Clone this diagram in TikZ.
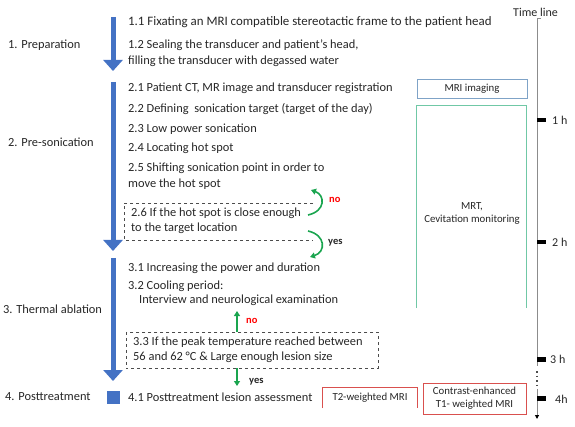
\documentclass[tikz,border=0pt]{standalone}
\usepackage{fontspec}
\setmainfont{Carlito}
\usetikzlibrary{arrows.meta}
\definecolor{flowblue}{HTML}{4472C4}
\definecolor{okgreen}{HTML}{1AA54F}
\definecolor{imgblue}{HTML}{7FA3C7}
\definecolor{mrtgreen}{HTML}{70C8A6}
\definecolor{redbox}{HTML}{D9504E}
\definecolor{tlgray}{HTML}{8C8C8C}
\begin{document}
\begin{tikzpicture}[x=1pt,y=-1pt,
  txt/.style={anchor=west,inner sep=0pt,font=\fontsize{12.4}{15}\selectfont,text=black!85},
  phase/.style={anchor=west,inner sep=0pt,font=\fontsize{12.4}{15}\selectfont,text=black!85},
  smalltxt/.style={inner sep=0pt,font=\fontsize{10.8}{13}\selectfont,text=black!85,align=center},
  bigarrow/.style={draw=flowblue,line width=5pt,-{Triangle[length=11pt,width=19pt]}},
  garrow/.style={draw=okgreen,line width=1.6pt,-{Triangle[length=5pt,width=6pt]}},
  dashbox/.style={draw=black!70,dashed,line width=0.6pt},
  tick/.style={fill=black,draw=none},
  tlab/.style={anchor=west,inner sep=0pt,font=\fontsize{12}{14}\selectfont,text=black!85},
  frame/.style={inner sep=0pt},
]
\useasboundingbox (0,0) rectangle (575,427);

% phase labels
\node[phase] (p1) at (8,45) {1. Preparation};
\node[phase] (p2) at (8,142) {2. Pre-sonication};
\node[phase] (p3) at (3,309) {3. Thermal ablation};
\node[phase] (p4) at (5,397) {4. Posttreatment};

% blue arrows
\coordinate (a1s) at (113,17);  \coordinate (a1e) at (113,71);
\coordinate (a2s) at (113,82);  \coordinate (a2e) at (113,251);
\coordinate (a3s) at (113,258); \coordinate (a3e) at (113,381);
\draw[bigarrow] (a1s) -- (a1e);
\draw[bigarrow] (a2s) -- (a2e);
\draw[bigarrow] (a3s) -- (a3e);
\node[fill=flowblue,minimum size=13pt,inner sep=0pt] (sq) at (113.5,397) {};

% step texts
\node[txt,font=\fontsize{12.9}{15}\selectfont] (s11) at (128,22) {1.1 Fixating an MRI compatible stereotactic frame to the patient head};
\node[txt,align=left,font=\fontsize{12.4}{16}\selectfont] (s12) at (128,53) {1.2 Sealing the transducer and patient’s head,\\filling the transducer with degassed water};
\node[txt] (s21) at (128,88) {2.1 Patient CT, MR image and transducer registration};
\node[txt] (s22) at (128,109) {2.2 Defining\ \ sonication target (target of the day)};
\node[txt] (s23) at (128,129) {2.3 Low power sonication};
\node[txt] (s24) at (128,148) {2.4 Locating hot spot};
\node[txt,align=left,font=\fontsize{12.4}{16}\selectfont] (s25) at (128,176) {2.5 Shifting sonication point in order to\\move the hot spot};

% 2.6 dashed frame (open on the right)
\node[frame,minimum width=189pt,minimum height=36pt] (b26) at (218.5,222) {};
\draw[dashbox] (b26.north east) -- (b26.north west) -- (b26.south west) -- (b26.south east);
\node[txt,align=left,font=\fontsize{12.4}{15}\selectfont] (s26) at (131,220.5) {2.6 If the hot spot is close enough\\to the target location};

\node[txt] (s31) at (128,268) {3.1 Increasing the power and duration};
\node[txt,align=left,font=\fontsize{12.4}{13.5}\selectfont] (s32) at (128,293.5) {3.2 Cooling period:\\\hspace{11pt}Interview and neurological examination};

% 3.3 dashed frame
\node[frame,minimum width=252pt,minimum height=36pt] (b33) at (252,350) {};
\draw[dashbox] (b33.north west) rectangle (b33.south east);
\node[txt,align=left,font=\fontsize{12.4}{15}\selectfont] (s33) at (133,349.5) {3.3 If the peak temperature reached between\\56 and 62 \textdegree C \& Large enough lesion size};

\node[txt] (s41) at (128,397) {4.1 Posttreatment lesion assessment};

% green decision arrows
\coordinate (n1s) at (308,215); \coordinate (n1e) at (311,190);
\draw[garrow] (n1s) .. controls (326,211) and (325,195) .. (n1e);
\node[anchor=west,inner sep=0pt,text=red,font=\fontsize{10.5}{12}\bfseries] (no1) at (329,200) {no};
\coordinate (y1s) at (308,231); \coordinate (y1e) at (310,257);
\draw[garrow] (y1s) .. controls (326,235) and (326,252) .. (y1e);
\node[anchor=west,inner sep=0pt,text=black!85,font=\fontsize{10.5}{12}\bfseries] (yes1) at (328,243) {yes};

\coordinate (g2e) at (237,311);
\draw[garrow] (b33.north -| g2e) -- (g2e);
\node[anchor=west,inner sep=0pt,text=red,font=\fontsize{10.5}{12}\bfseries] (no2) at (246,321) {no};
\coordinate (g3e) at (237,386);
\draw[garrow] (b33.south -| g3e) -- (g3e);
\node[anchor=west,inner sep=0pt,text=black!85,font=\fontsize{10.5}{12}\bfseries] (yes2) at (249,382) {yes};

% right boxes
\node[draw=imgblue,line width=0.7pt,minimum width=110pt,minimum height=19pt,smalltxt] (mri) at (472,88.5) {MRI imaging};
\node[frame,minimum width=109pt,minimum height=202pt] (mrt) at (471.5,207) {};
\draw[draw=mrtgreen,line width=0.8pt] (mrt.south west) -- (mrt.north west) -- (mrt.north east) -- (mrt.south east);
\node[smalltxt] (mrtt) at (472,213) {MRT,\\Cevitation monitoring};

\node[frame,minimum width=94pt,minimum height=20pt] (t2) at (370,398) {};
\draw[draw=redbox,line width=0.8pt] (t2.south west) -- (t2.north west) -- (t2.north east) -- (t2.south east);
\node[smalltxt] (t2t) at (370,398) {T2-weighted MRI};
\node[draw=redbox,line width=0.8pt,minimum width=103pt,minimum height=31pt,smalltxt] (t1) at (474.5,398.5) {Contrast-enhanced\\T1- weighted MRI};

% timeline
\node[anchor=west,inner sep=0pt,font=\fontsize{12}{12}\selectfont,text=black!85] (tl) at (513,12) {Time line};
\coordinate (tltop) at (537,19);
\coordinate (tltick) at (541,19);
\coordinate (tlb1) at (537,366);
\coordinate (tld1) at (537,371);
\coordinate (tld2) at (537,385);
\coordinate (tlb2) at (537,389);
\coordinate (tlend) at (537,419);
\draw[tlgray,line width=1pt] (tltick) -- (tltop) -- (tlb1);
\draw[black!70,line width=1.2pt,dash pattern=on 1.5pt off 3pt] (tld1) -- (tld2);
\draw[tlgray,line width=1pt,-{Triangle[length=4pt,width=4pt,fill=black,color=black]}] (tlb2) -- (tlend);
\fill[tick] (537,118) rectangle (546,122.5);
\fill[tick] (537,240) rectangle (546,244.5);
\fill[tick] (537,357) rectangle (546,361.5);
\fill[tick] (537,396) rectangle (546,400.5);
\node[tlab] (h1) at (552,120) {1 h};
\node[tlab] (h2) at (552,242) {2 h};
\node[tlab] (h3) at (550,359) {3 h};
\node[tlab] (h4) at (555,399) {4h};
\end{tikzpicture}
\end{document}
